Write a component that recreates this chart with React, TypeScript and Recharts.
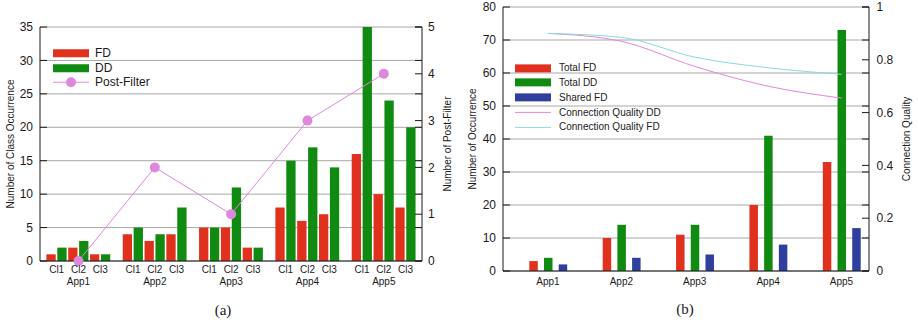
import { ComposedChart, Bar, Line, XAxis, YAxis, CartesianGrid, Legend, Label } from "recharts";

const FONT = '"Liberation Sans", Arial, Helvetica, sans-serif';
const INK = "#1a1a1a";
const RED = "#e0301e";
const GREEN = "#108a10";
const BLUE = "#2e3f9e";
const PINK = "#dd88dd";
const CYAN = "#8adada";
const GRID = "#a8a8a8";
const TICK = 7;

// ---- (a) class occurrence per cluster ----
const apps = ["App1", "App2", "App3", "App4", "App5"];
const clusters = ["Cl1", "Cl2", "Cl3"];
const fdByCluster = [
  [1, 2, 1],
  [4, 3, 4],
  [5, 5, 2],
  [8, 6, 7],
  [16, 10, 8],
];
const ddByCluster = [
  [2, 3, 1],
  [5, 4, 8],
  [5, 11, 2],
  [15, 17, 14],
  [35, 24, 20],
];
const postFilter = [0, 2, 1, 3, 4];
const classTicks = [0, 5, 10, 15, 20, 25, 30, 35];
const postFilterTicks = [0, 1, 2, 3, 4, 5];

// ---- (b) totals per app ----
const totalFD = [3, 10, 11, 20, 33];
const totalDD = [4, 14, 14, 41, 73];
const sharedFD = [2, 4, 5, 8, 13];
const qualityDD = [0.9, 0.87, 0.775, 0.7, 0.655];
const qualityFD = [0.9, 0.885, 0.81, 0.77, 0.745];
const occurrenceTicks = [0, 10, 20, 30, 40, 50, 60, 70, 80];
const qualityTicks = [0, 0.2, 0.4, 0.6, 0.8, 1];

// one slot per bar, a middle slot per cluster (labels + post-filter point), gap slots between
const rowsA: any[] = [];
apps.forEach((app, a) => {
  clusters.forEach((cl, c) => {
    rowsA.push({ key: `${app}-${cl}-fd`, fd: fdByCluster[a][c] });
    rowsA.push({ key: `${app}-${cl}-mid`, cl, app: c === 1 ? app : "", pf: c === 1 ? postFilter[a] : null });
    rowsA.push({ key: `${app}-${cl}-dd`, dd: ddByCluster[a][c] });
    if (c < clusters.length - 1) rowsA.push({ key: `${app}-${cl}-gap` });
  });
  if (a < apps.length - 1) {
    for (let g = 0; g < 3; g++) rowsA.push({ key: `${app}-sep${g}` });
  }
});
const rowByKey: Record<string, any> = {};
rowsA.forEach((r) => (rowByKey[r.key] = r));

const rowsB = apps.map((app, i) => ({
  app,
  totalFD: totalFD[i],
  totalDD: totalDD[i],
  sharedFD: sharedFD[i],
  qualityDD: qualityDD[i],
  qualityFD: qualityFD[i],
}));

const legendA = [
  { label: "FD", kind: "bar", color: RED },
  { label: "DD", kind: "bar", color: GREEN },
  { label: "Post-Filter", kind: "dot", color: PINK },
];
const legendB = [
  { label: "Total FD", kind: "bar", color: RED },
  { label: "Total DD", kind: "bar", color: GREEN },
  { label: "Shared FD", kind: "bar", color: BLUE },
  { label: "Connection Quality DD", kind: "line", color: PINK },
  { label: "Connection Quality FD", kind: "line", color: CYAN },
];

const textProps = { fontFamily: FONT, fill: INK };

const leftTick = (gap: number, span: number, size = 12) => (props: any) => {
  const { x, y, payload } = props;
  const ax = x + gap;
  return (
    <g>
      <line x1={ax} x2={ax + TICK} y1={y} y2={y} stroke={INK} />
      <line x1={ax + span - TICK} x2={ax + span} y1={y} y2={y} stroke={INK} />
      <text x={x} y={y} dy="0.35em" textAnchor="end" fontSize={size} {...textProps}>
        {payload.value}
      </text>
    </g>
  );
};

const rightTick = (gap: number, size = 12) => (props: any) => {
  const { x, y, payload } = props;
  const ax = x - gap;
  return (
    <g>
      <line x1={ax - TICK} x2={ax} y1={y} y2={y} stroke={INK} />
      <text x={x} y={y} dy="0.35em" textAnchor="start" fontSize={size} {...textProps}>
        {payload.value}
      </text>
    </g>
  );
};

const ClusterTick = (props: any) => {
  const { x, y, payload } = props;
  const row = rowByKey[payload.value];
  if (!row || !row.cl) return <g />;
  return (
    <g>
      <text x={x} y={y + 6} dy="0.35em" textAnchor="middle" fontSize={10} {...textProps}>
        {row.cl}
      </text>
      {row.app ? (
        <text x={x} y={y + 18.5} dy="0.35em" textAnchor="middle" fontSize={10} {...textProps}>
          {row.app}
        </text>
      ) : null}
    </g>
  );
};

const AppTick = (props: any) => {
  const { x, y, payload } = props;
  return (
    <text x={x} y={y + 8.3} dy="0.35em" textAnchor="middle" fontSize={10} {...textProps}>
      {payload.value}
    </text>
  );
};

const WideBar = (props: any) => {
  const { x, y, width, height, fill } = props;
  if (!height || height <= 0) return <g />;
  const w = 9.3;
  return <rect x={x + width / 2 - w / 2} y={y} width={w} height={height} fill={fill} />;
};

const axisTitle = (text: string, dx: number) => (props: any) => {
  const vb = props.viewBox;
  const cx = vb.x + dx;
  const cy = vb.y + vb.height / 2;
  return (
    <text
      transform={`translate(${cx},${cy}) rotate(-90)`}
      textAnchor="middle"
      dy="0.35em"
      fontSize={10}
      {...textProps}
    >
      {text}
    </text>
  );
};

const renderLegend = (items: any[], fontSize: number, rowH: number, gap: number) => () => (
  <div style={{ fontFamily: FONT, fontSize, color: INK }}>
    {items.map((it) => (
      <div key={it.label} style={{ display: "flex", alignItems: "center", height: rowH }}>
        <svg width={36} height={rowH} style={{ display: "block" }}>
          {it.kind === "bar" ? (
            <rect x={0} y={(rowH - 8) / 2} width={36} height={8} fill={it.color} />
          ) : (
            <line x1={0} x2={36} y1={rowH / 2} y2={rowH / 2} stroke={it.color} />
          )}
          {it.kind === "dot" ? <circle cx={18} cy={rowH / 2} r={5} fill={it.color} /> : null}
        </svg>
        <span style={{ marginLeft: gap, whiteSpace: "nowrap" }}>{it.label}</span>
      </div>
    ))}
  </div>
);

function ChartA() {
  const plotW = 382;
  return (
    <ComposedChart
      width={460}
      height={300}
      data={rowsA}
      margin={{ top: 27, right: 0, bottom: 0, left: 0 }}
    >
      <CartesianGrid yAxisId="count" vertical={false} stroke={GRID} />
      <XAxis
        dataKey="key"
        type="category"
        interval={0}
        height={39}
        padding={{ left: 8.5, right: 8.2 }}
        tickLine={false}
        tickSize={0}
        axisLine={{ stroke: INK }}
        tick={ClusterTick}
      />
      <XAxis xAxisId="top" orientation="top" dataKey="key" height={0} tick={false} tickLine={false} axisLine={{ stroke: INK }} />
      <YAxis
        yAxisId="count"
        width={40}
        domain={[0, 35]}
        ticks={classTicks}
        interval={0}
        tickLine={false}
        tickSize={0}
        tickMargin={7}
        axisLine={{ stroke: INK }}
        tick={leftTick(7, plotW)}
      >
        <Label content={axisTitle("Number of Class Occurrence", 10)} />
      </YAxis>
      <YAxis
        yAxisId="pf"
        orientation="right"
        width={38}
        domain={[0, 5]}
        ticks={postFilterTicks}
        interval={0}
        tickLine={false}
        tickSize={0}
        tickMargin={6}
        axisLine={{ stroke: INK }}
        tick={rightTick(6)}
      >
        <Label content={axisTitle("Number of Post-Filter", 25)} />
      </YAxis>
      <Bar yAxisId="count" dataKey="fd" stackId="s" fill={RED} shape={WideBar} isAnimationActive={false} />
      <Bar yAxisId="count" dataKey="dd" stackId="s" fill={GREEN} shape={WideBar} isAnimationActive={false} />
      <Line
        yAxisId="pf"
        dataKey="pf"
        type="linear"
        stroke={PINK}
        strokeWidth={1}
        connectNulls
        dot={{ r: 5, fill: PINK, stroke: PINK, strokeWidth: 0 }}
        isAnimationActive={false}
      />
      <Legend
        layout="vertical"
        align="center"
        verticalAlign="middle"
        wrapperStyle={{ left: 53, top: 46, width: "auto" }}
        content={renderLegend(legendA, 12, 14.5, 6)}
      />
    </ComposedChart>
  );
}

function ChartB() {
  const plotW = 366;
  return (
    <ComposedChart
      width={458}
      height={300}
      data={rowsB}
      margin={{ top: 7, right: 0, bottom: 0, left: 0 }}
      barGap={6.2}
    >
      <CartesianGrid yAxisId="count" vertical={false} stroke={GRID} />
      <XAxis
        dataKey="app"
        type="category"
        height={29}
        padding={{ left: 8.3, right: -9.2 }}
        tickLine={false}
        tickSize={0}
        axisLine={{ stroke: INK }}
        tick={AppTick}
      />
      <XAxis xAxisId="top" orientation="top" dataKey="app" height={0} tick={false} tickLine={false} axisLine={{ stroke: INK }} />
      <YAxis
        yAxisId="count"
        width={43}
        domain={[0, 80]}
        ticks={occurrenceTicks}
        interval={0}
        tickLine={false}
        tickSize={0}
        tickMargin={7}
        axisLine={{ stroke: INK }}
        tick={leftTick(7, plotW)}
      >
        <Label content={axisTitle("Number of Occurrence", 12)} />
      </YAxis>
      <YAxis
        yAxisId="quality"
        orientation="right"
        width={49}
        domain={[0, 1]}
        ticks={qualityTicks}
        interval={0}
        tickLine={false}
        tickSize={0}
        tickMargin={7.5}
        axisLine={{ stroke: INK }}
        tick={rightTick(7.5)}
      >
        <Label content={axisTitle("Connection Quality", 37)} />
      </YAxis>
      <Bar yAxisId="count" dataKey="totalFD" fill={RED} barSize={8.5} isAnimationActive={false} />
      <Bar yAxisId="count" dataKey="totalDD" fill={GREEN} barSize={8.5} isAnimationActive={false} />
      <Bar yAxisId="count" dataKey="sharedFD" fill={BLUE} barSize={8.5} isAnimationActive={false} />
      <Line yAxisId="quality" dataKey="qualityDD" type="monotone" stroke={PINK} strokeWidth={1} dot={false} isAnimationActive={false} />
      <Line yAxisId="quality" dataKey="qualityFD" type="monotone" stroke={CYAN} strokeWidth={1} dot={false} isAnimationActive={false} />
      <Legend
        layout="vertical"
        align="center"
        verticalAlign="middle"
        wrapperStyle={{ left: 55, top: 60.5, width: "auto" }}
        content={renderLegend(legendB, 10, 14.75, 8)}
      />
    </ComposedChart>
  );
}

const captionStyle: any = {
  position: "absolute",
  width: 100,
  textAlign: "center",
  fontFamily: '"Liberation Serif", "DejaVu Serif", serif',
  fontSize: 15,
  lineHeight: "18px",
  color: INK,
};

export default function App() {
  return (
    <div style={{ position: "absolute", left: 0, top: 0, width: 918, height: 323, background: "#fff" }}>
      <div style={{ position: "absolute", left: 0, top: 0 }}>
        <ChartA />
      </div>
      <div style={{ position: "absolute", left: 460, top: 0 }}>
        <ChartB />
      </div>
      <div style={{ ...captionStyle, left: 173, top: 301 }}>(a)</div>
      <div style={{ ...captionStyle, left: 635, top: 300 }}>(b)</div>
    </div>
  );
}
